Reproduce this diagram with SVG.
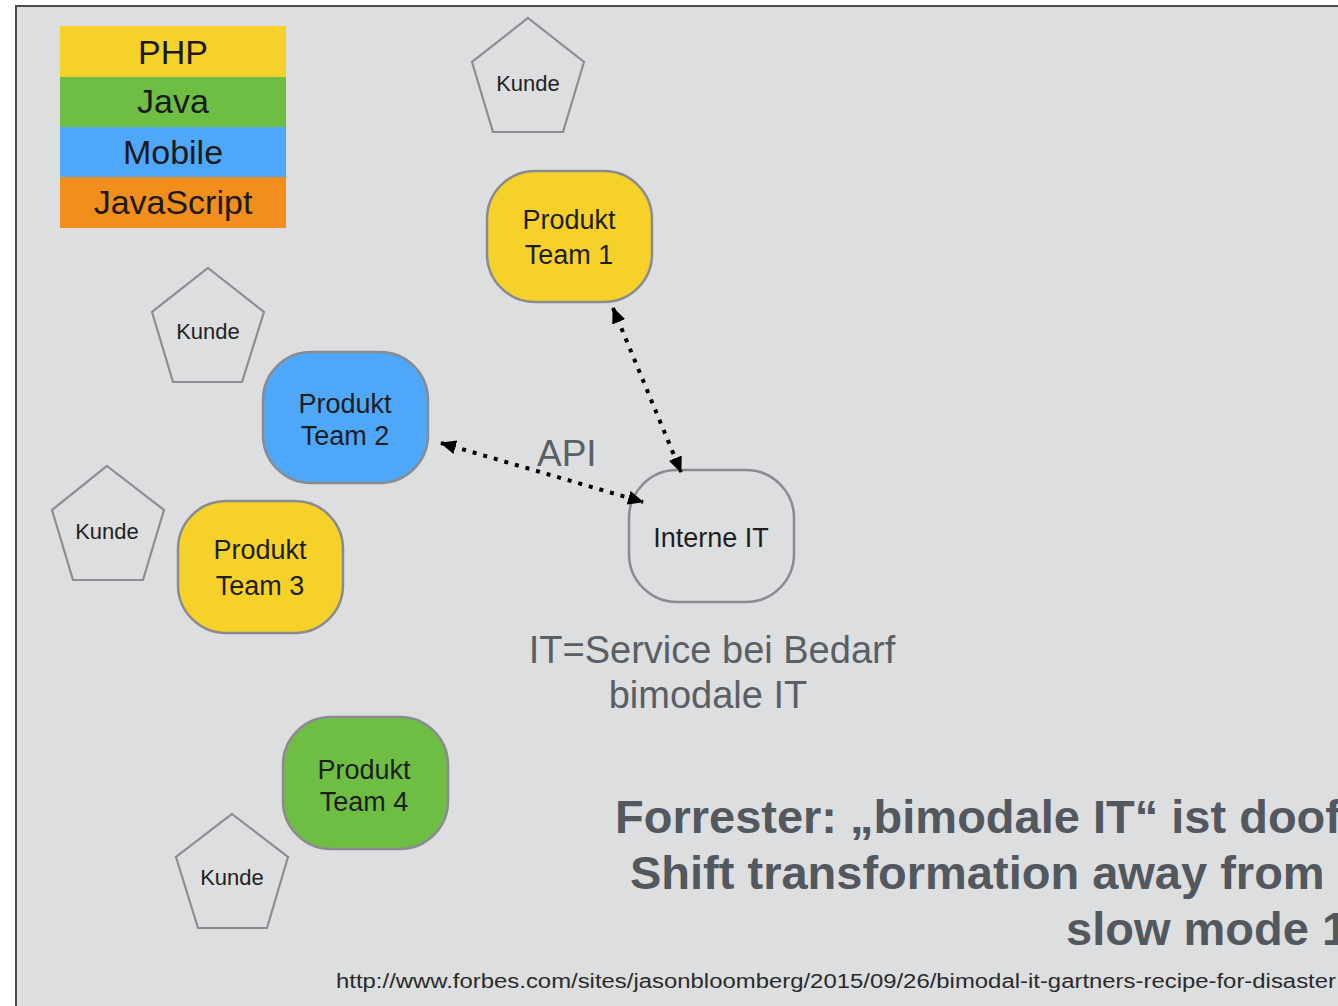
<svg xmlns="http://www.w3.org/2000/svg" width="1338" height="1006" viewBox="0 0 1338 1006">
<style>
text{font-family:"Liberation Sans",Arial,sans-serif}
.leg{font-size:34px;fill:#1a1a1a;text-anchor:middle}
.node{fill:none;stroke:#8a8b90;stroke-width:2.5}
.pent{fill:none;stroke:#8c8d91;stroke-width:2.2}
.nt{font-size:27px;fill:#1e1e1e;text-anchor:middle}
.kt{font-size:22px;fill:#222;text-anchor:middle}
.gray{fill:#5a5e65}
.big{font-size:47px;font-weight:bold;fill:#53575e}
.conn{fill:none;stroke:#000;stroke-width:4;stroke-dasharray:4 7;marker-start:url(#ah);marker-end:url(#ah)}
</style>
<defs>
<marker id="ah" viewBox="0 0 16 14" refX="15" refY="7" markerWidth="16" markerHeight="14" markerUnits="userSpaceOnUse" orient="auto-start-reverse">
<path d="M0,0 L16,7 L0,14 z" fill="#000"/>
</marker>
</defs>
<rect x="0" y="0" width="1338" height="1006" fill="#ffffff"/>
<rect x="16" y="6" width="1330" height="1010" fill="#dddee0"/>
<path d="M16,1006 V6 H1338" fill="none" stroke="#4a4a4a" stroke-width="2"/>

<g id="legend">
<rect x="60" y="26" width="226" height="51" fill="#f6d12a"/>
<rect x="60" y="77" width="226" height="50" fill="#6fbe44"/>
<rect x="60" y="127" width="226" height="50" fill="#4fa7f9"/>
<rect x="60" y="177" width="226" height="51" fill="#f28e1b"/>
<text class="leg" x="173" y="64">PHP</text>
<text class="leg" x="173" y="113">Java</text>
<text class="leg" x="173" y="164">Mobile</text>
<text class="leg" x="173" y="214">JavaScript</text>
</g>

<g id="kunde1">
<polygon class="pent" points="528,18 584,62 563,132 493,132 472,62"/>
<text class="kt" x="528" y="91">Kunde</text>
</g>
<g id="kunde2">
<polygon class="pent" points="208,268 264,312 242,382 173,382 152,312"/>
<text class="kt" x="208" y="339">Kunde</text>
</g>
<g id="kunde3">
<polygon class="pent" points="107,466 164,510 143,580 73,580 52,510"/>
<text class="kt" x="107" y="539">Kunde</text>
</g>
<g id="kunde4">
<polygon class="pent" points="232,814 288,857 267,928 198,928 176,857"/>
<text class="kt" x="232" y="885">Kunde</text>
</g>

<g id="team1">
<rect class="node" x="487" y="171" width="165" height="131" rx="48" fill="#f6d12a" style="fill:#f6d12a"/>
<text class="nt" x="569" y="229">Produkt</text>
<text class="nt" x="569" y="264">Team 1</text>
</g>
<g id="team2">
<rect class="node" x="263" y="352" width="165" height="131" rx="48" style="fill:#4fa7f9"/>
<text class="nt" x="345" y="413">Produkt</text>
<text class="nt" x="345" y="445">Team 2</text>
</g>
<g id="team3">
<rect class="node" x="178" y="501" width="165" height="132" rx="48" style="fill:#f6d12a"/>
<text class="nt" x="260" y="559">Produkt</text>
<text class="nt" x="260" y="595">Team 3</text>
</g>
<g id="team4">
<rect class="node" x="283" y="717" width="165" height="132" rx="48" style="fill:#6fbe44"/>
<text class="nt" x="364" y="779">Produkt</text>
<text class="nt" x="364" y="811">Team 4</text>
</g>
<g id="interne">
<rect class="node" x="629" y="470" width="165" height="132" rx="48"/>
<text class="nt" x="711" y="547">Interne IT</text>
</g>

<g id="connectors">
<line class="conn" x1="613" y1="308" x2="681" y2="472"/>
<line class="conn" x1="441" y1="443" x2="643" y2="502"/>
<text class="gray" x="537" y="466" font-size="37">API</text>
</g>

<g id="labels">
<text class="gray" x="712" y="663" font-size="38" text-anchor="middle">IT=Service bei Bedarf</text>
<text class="gray" x="708" y="708" font-size="38" text-anchor="middle">bimodale IT</text>
<text class="big" x="615" y="833">Forrester: „bimodale IT“ ist doof</text>
<text class="big" x="630" y="889">Shift transformation away from</text>
<text class="big" x="1066" y="945">slow mode 1</text>
<text x="336" y="988" font-size="20" fill="#2a2a2a" textLength="1000" lengthAdjust="spacingAndGlyphs">http://www.forbes.com/sites/jasonbloomberg/2015/09/26/bimodal-it-gartners-recipe-for-disaster</text>
</g>
</svg>
